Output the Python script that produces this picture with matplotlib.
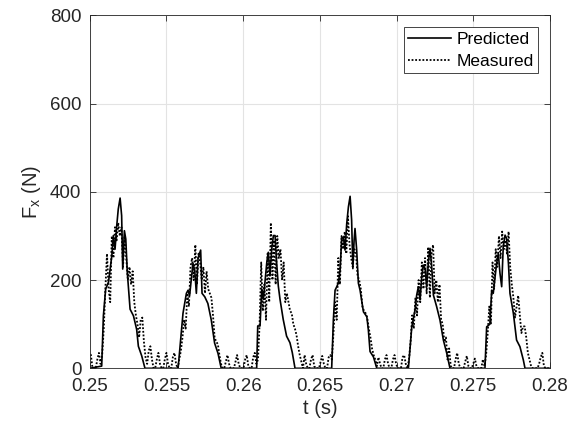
import numpy as np
import matplotlib
matplotlib.use('Agg')
import matplotlib.pyplot as plt

# predicted force, breakpoints (t in s, F in N)
PRED_T = [0.25000, 0.25078, 0.25089, 0.25104, 0.25122, 0.25144, 0.25154, 0.25165,
          0.25176, 0.25186, 0.25198, 0.25208, 0.25215, 0.25226, 0.25235, 0.25245,
          0.25263, 0.25285, 0.25306, 0.25317, 0.25339, 0.25360,
          0.25576, 0.25608, 0.25630, 0.25641, 0.25651, 0.25673, 0.25684, 0.25695,
          0.25706, 0.25723, 0.25732, 0.25750, 0.25770, 0.25792, 0.25814, 0.25836,
          0.25857,
          0.26088, 0.26095, 0.26110, 0.26121, 0.26132, 0.26154, 0.26164, 0.26175,
          0.26186, 0.26197, 0.26208, 0.26218, 0.26229, 0.26240, 0.26261, 0.26283,
          0.26305, 0.26320, 0.26338,
          0.26577, 0.26588, 0.26599, 0.26610, 0.26620, 0.26632, 0.26642, 0.26653,
          0.26664, 0.26675, 0.26686, 0.26697, 0.26707, 0.26715, 0.26723, 0.26729,
          0.26740, 0.26751, 0.26762, 0.26784, 0.26806, 0.26816, 0.26827, 0.26849,
          0.26871,
          0.27077, 0.27099, 0.27120, 0.27131, 0.27142, 0.27153, 0.27164, 0.27174,
          0.27186, 0.27196, 0.27207, 0.27218, 0.27229, 0.27240, 0.27261, 0.27283,
          0.27305, 0.27327, 0.27348,
          0.27576, 0.27587, 0.27608, 0.27620, 0.27630, 0.27652, 0.27663, 0.27674,
          0.27685, 0.27695, 0.27707, 0.27717, 0.27729, 0.27739, 0.27761, 0.27782,
          0.27804, 0.27826, 0.27837, 0.28000]
PRED_F = [0, 5, 119, 180, 195, 255, 301, 270,
          323, 361, 386, 346, 225, 312, 293, 217,
          134, 119, 88, 50, 28, 0,
          0, 125, 170, 177, 165, 238, 223, 170,
          250, 268, 170, 162, 147, 110, 57, 34,
          0,
          0, 96, 96, 180, 157, 240, 263, 210,
          270, 301, 301, 240, 187, 157, 111, 73,
          58, 36, 0,
          0, 110, 177, 185, 193, 223, 294, 298,
          268, 328, 366, 390, 336, 226, 290, 317,
          268, 193, 177, 128, 117, 87, 38, 26,
          0,
          0, 94, 132, 166, 185, 155, 208, 234,
          226, 185, 240, 272, 230, 166, 140, 109,
          64, 34, 0,
          0, 94, 100, 177, 170, 238, 260, 215,
          185, 275, 302, 295, 238, 170, 125, 64,
          49, 19, 0, 0]

MEAS_T0 = 0.24924
MEAS_DT = 0.0001047
MEAS_F = [
    30, 20, 0, 0, 0, 0, 15, 35, 30, 0,
    0, 0, 20, 35, 10, 30, 90, 180, 260, 180,
    150, 300, 250, 320, 290, 330, 300, 320, 230, 300,
    250, 200, 230, 190, 220, 150, 120, 100, 70, 110,
    115, 60, 25, 10, 40, 50, 20, 0, 0, 20,
    35, 10, 0, 0, 20, 35, 10, 0, 0, 25,
    35, 10, 0, 20, 40, 70, 110, 90, 170, 140,
    230, 250, 200, 280, 190, 260, 240, 200, 230, 170,
    220, 180, 170, 160, 120, 70, 60, 55, 30, 10,
    0, 0, 15, 30, 10, 0, 0, 0, 15, 30,
    10, 0, 0, 0, 20, 30, 5, 0, 0, 25,
    35, 10, 20, 100, 240, 130, 190, 110, 260, 150,
    330, 200, 290, 190, 300, 250, 270, 200, 240, 150,
    170, 150, 130, 125, 100, 90, 75, 50, 30, 15,
    0, 30, 10, 0, 0, 20, 30, 5, 0, 0,
    0, 15, 28, 10, 0, 0, 25, 30, 20, 80,
    150, 110, 250, 190, 300, 270, 310, 260, 345, 280,
    250, 230, 270, 260, 210, 200, 180, 140, 130, 125,
    115, 90, 70, 45, 30, 20, 5, 25, 10, 0,
    0, 20, 30, 10, 0, 0, 20, 30, 10, 0,
    0, 0, 25, 30, 10, 0, 20, 60, 120, 90,
    160, 120, 200, 150, 240, 180, 250, 170, 275, 160,
    260, 280, 170, 200, 150, 190, 110, 100, 60, 70,
    20, 45, 5, 0, 0, 20, 35, 10, 0, 0,
    0, 15, 28, 5, 0, 0, 10, 22, 5, 0,
    0, 0, 20, 5, 30, 80, 140, 100, 240, 180,
    270, 230, 300, 250, 310, 270, 290, 260, 310, 230,
    190, 160, 115, 140, 165, 120, 80, 95, 95, 70,
    35, 20, 5, 0, 0, 0, 0, 10, 25, 35,
    5, 0, 0, 0, 0, 0, 0, 0, 0, 0,
    0]

X_TICKS = [0.25, 0.255, 0.26, 0.265, 0.27, 0.275, 0.28]
X_TICK_LABELS = ['0.25', '0.255', '0.26', '0.265', '0.27', '0.275', '0.28']
Y_TICKS = [0, 200, 400, 600, 800]

plt.rcParams['font.family'] = ['Liberation Sans', 'DejaVu Sans']
TXT = '#262626'


def main():
    meas_t = MEAS_T0 + MEAS_DT * np.arange(len(MEAS_F))

    fig = plt.figure(figsize=(5.8, 4.28), dpi=100)
    ax = fig.add_axes([0.1547, 0.1395, 0.7936, 0.8243])

    ax.plot(PRED_T, PRED_F, color='black', lw=1.2, ls='-', label='Predicted')
    ax.plot(meas_t, MEAS_F, color='black', lw=1.3, ls=(0, (1, 1)),
            label='Measured')

    ax.set_xlim(0.25, 0.28)
    ax.set_ylim(0, 800)
    ax.set_xticks(X_TICKS)
    ax.set_xticklabels(X_TICK_LABELS)
    ax.set_yticks(Y_TICKS)

    ax.grid(True, color='#e3e3e3', lw=0.8)
    ax.set_axisbelow(True)
    for s in ax.spines.values():
        s.set_color(TXT)
        s.set_linewidth(0.6)
    ax.tick_params(direction='in', length=4, width=0.6, colors=TXT,
                   labelsize=13.5, top=True, right=True)
    ax.tick_params(axis='x', pad=7)
    ax.tick_params(axis='y', pad=6)

    ax.set_xlabel('t (s)', fontsize=14.5, color=TXT, labelpad=3)
    ax.set_ylabel(r'F$_{\mathregular{x}}$ (N)', fontsize=14.5, color=TXT,
                  labelpad=5)

    leg = ax.legend(loc='upper right', fontsize=12.5, fancybox=False,
                    framealpha=1, edgecolor=TXT, handlelength=2.5,
                    handletextpad=0.3, borderpad=0.25, labelspacing=0.4,
                    borderaxespad=0.68)
    leg.get_frame().set_linewidth(0.6)

    fig.savefig('out.png', dpi=100)
    plt.close(fig)


if __name__ == '__main__':
    main()
